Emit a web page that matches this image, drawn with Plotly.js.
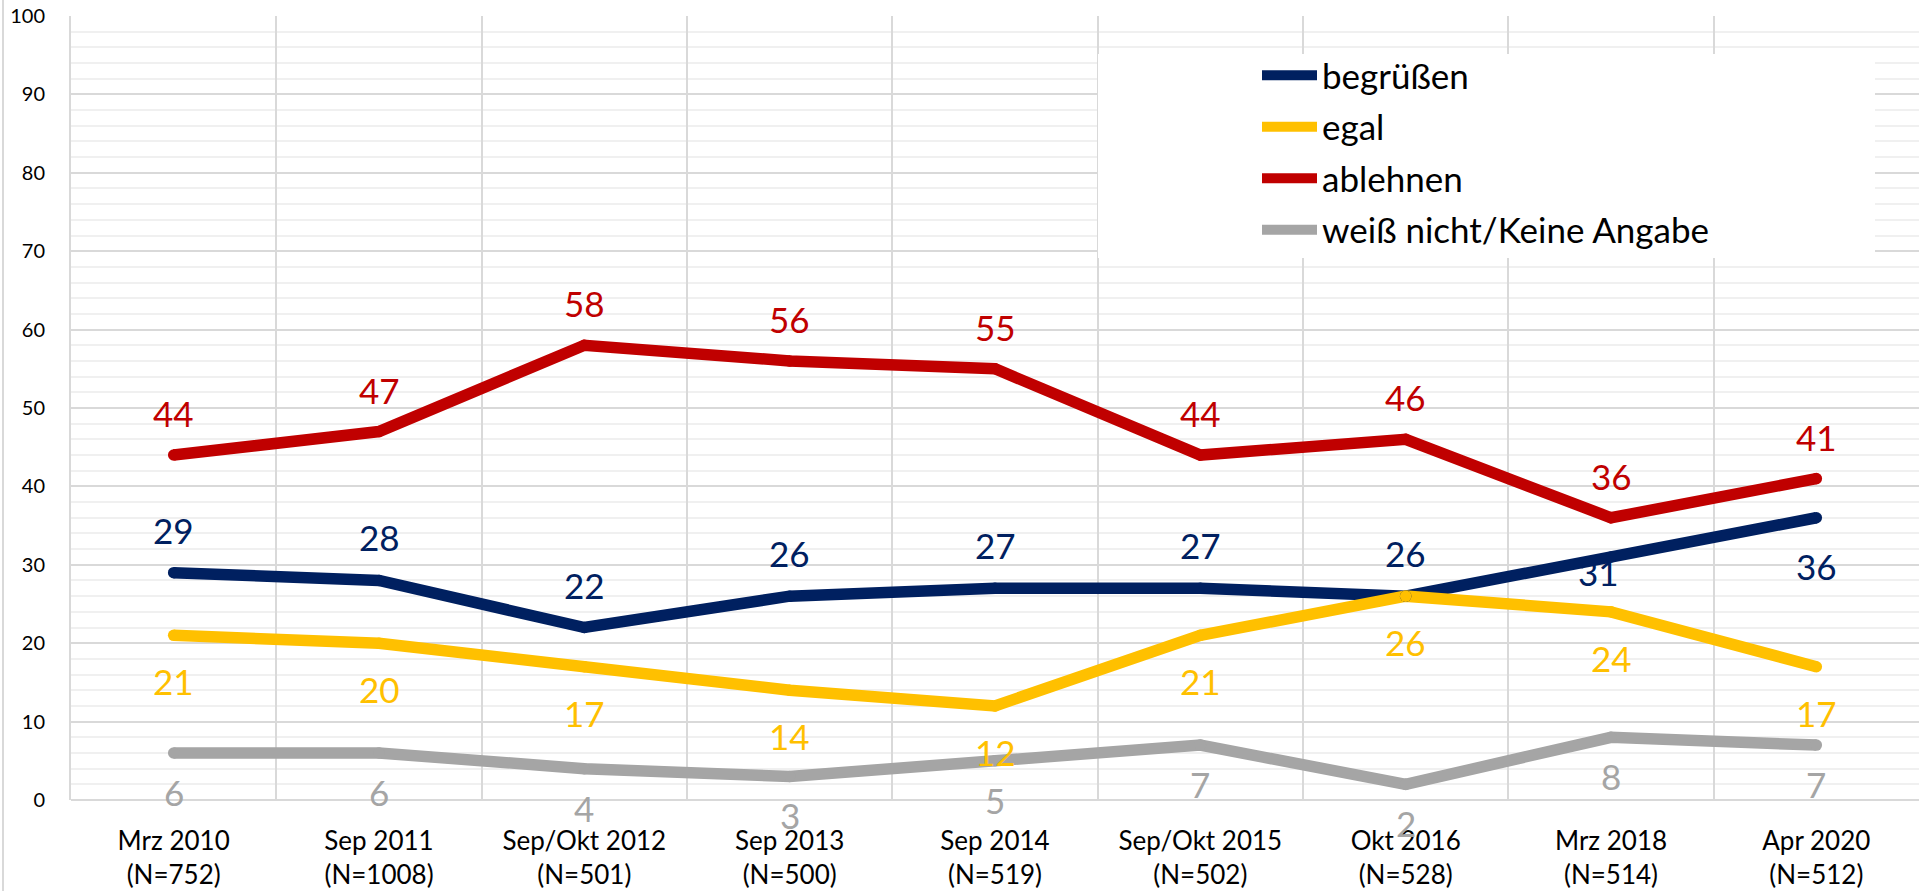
<!DOCTYPE html>
<html>
<head>
<meta charset="utf-8">
<script src="https://cdn.plot.ly/plotly-3.0.1.min.js"></script>
<style>
html,body{margin:0;padding:0;background:#fff;}
#chart{width:1925px;height:891px;}
</style>
</head>
<body>
<div id="chart"></div>
<script>
// ---- data ----
const categories = [
  "Mrz 2010<br>(N=752)",
  "Sep 2011<br>(N=1008)",
  "Sep/Okt 2012<br>(N=501)",
  "Sep 2013<br>(N=500)",
  "Sep 2014<br>(N=519)",
  "Sep/Okt 2015<br>(N=502)",
  "Okt 2016<br>(N=528)",
  "Mrz 2018<br>(N=514)",
  "Apr 2020<br>(N=512)"
];
const seriesNames = ["begrüßen", "egal", "ablehnen", "weiß nicht/Keine Angabe"];
const begruessen = [29, 28, 22, 26, 27, 27, 26, 31, 36];
const egal       = [21, 20, 17, 14, 12, 21, 26, 24, 17];
const ablehnen   = [44, 47, 58, 56, 55, 44, 46, 36, 41];
const weissNicht = [6, 6, 4, 3, 5, 7, 2, 8, 7];
const yTicks = [0, 10, 20, 30, 40, 50, 60, 70, 80, 90, 100];

// ---- styles ----
const colors = ["#002060", "#FFC000", "#C00000", "#A5A5A5"];
const FONT = 'Lato, "Open Sans", "Noto Sans", sans-serif';
const LW = 11.5;

const allSeries = [begruessen, egal, ablehnen, weissNicht];
// label offset in px (positive = above the point)
const labelShift = [
  [43, 43, 43, 43, 43, 43, 43, -15, -48],
  [-46, -46, -46, -46, -46, -46, -46, -46, -46],
  [42, 42, 42, 42, 42, 42, 42, 42, 42],
  [-39, -39, -39, -39, -39, -39, -39, -39, -39]
];
const labelXShift = [
  [0, 0, 0, 0, 0, 0, 0, -13, 0],
  [0, 0, 0, 0, 0, 0, 0, 0, 0],
  [0, 0, 0, 0, 0, 0, 0, 0, 0],
  [0, 0, 0, 0, 0, 0, 0, 0, 0]
];

const traces = [];
allSeries.forEach((vals, i) => {
  traces.push({
    type: "scatter", mode: "lines",
    x: categories, y: vals, name: seriesNames[i],
    legendgroup: "g" + i,
    line: {color: colors[i], width: LW},
    hoverinfo: "skip"
  });
});
// round caps / joins
allSeries.forEach((vals, i) => {
  traces.push({
    type: "scatter", mode: "markers",
    x: categories, y: vals, name: seriesNames[i],
    legendgroup: "g" + i, showlegend: false,
    marker: {color: colors[i], size: LW, line: {width: 0}},
    hoverinfo: "skip"
  });
});

const annotations = [];
allSeries.forEach((vals, i) => {
  vals.forEach((v, j) => {
    annotations.push({
      x: categories[j], y: v, xref: "x", yref: "y",
      text: String(v), showarrow: false,
      yshift: labelShift[i][j], xshift: labelXShift[i][j],
      font: {family: FONT, size: 35, color: colors[i]}
    });
  });
});

const L = 71, R = 6, T = 16, B = 91;
const W = 1925 - L - R, H = 891 - T - B;
const px2x = p => (p - L) / W;
const px2y = p => 1 - (p - T) / H;

const layout = {
  width: 1925, height: 891,
  margin: {l: L, r: R, t: T, b: B, pad: 0},
  paper_bgcolor: "#ffffff",
  plot_bgcolor: "#ffffff",
  showlegend: true,
  legend: {
    x: px2x(1257), y: px2y(46), xanchor: "left", yanchor: "top",
    bgcolor: "rgba(0,0,0,0)", borderwidth: 0,
    font: {family: FONT, size: 35, color: "#000000"},
    tracegroupgap: 3, itemwidth: 55
  },
  xaxis: {
    type: "category",
    range: [-0.5, 8.5],
    tickson: "boundaries",
    showgrid: true, gridcolor: "#D9D9D9", gridwidth: 2,
    showline: false, zeroline: false,
    ticks: "",
    ticklabelstandoff: 23,
    tickfont: {family: FONT, size: 26, color: "#000000"},
    fixedrange: true
  },
  yaxis: {
    range: [0, 100],
    tickvals: yTicks,
    showgrid: true, gridcolor: "#D9D9D9", gridwidth: 2,
    minor: {dtick: 2, showgrid: true, gridcolor: "#F0F0F0", gridwidth: 2},
    showline: true, linecolor: "#D9D9D9", linewidth: 2,
    zeroline: true, zerolinecolor: "#D9D9D9", zerolinewidth: 2,
    ticks: "",
    ticklabelstandoff: 20,
    tickfont: {family: FONT, size: 20, color: "#000000"},
    fixedrange: true
  },
  shapes: [
    {type: "rect", xref: "paper", yref: "paper", layer: "above",
     x0: px2x(1098), x1: px2x(1875), y0: px2y(258), y1: px2y(54),
     fillcolor: "#ffffff", line: {width: 0}},
    {type: "line", xref: "paper", yref: "paper",
     x0: px2x(3), x1: px2x(3), y0: px2y(0), y1: px2y(891),
     line: {color: "#D9D9D9", width: 2}}
  ],
  annotations: annotations
};

Plotly.newPlot("chart", traces, layout, {staticPlot: true, displayModeBar: false});
</script>
</body>
</html>
